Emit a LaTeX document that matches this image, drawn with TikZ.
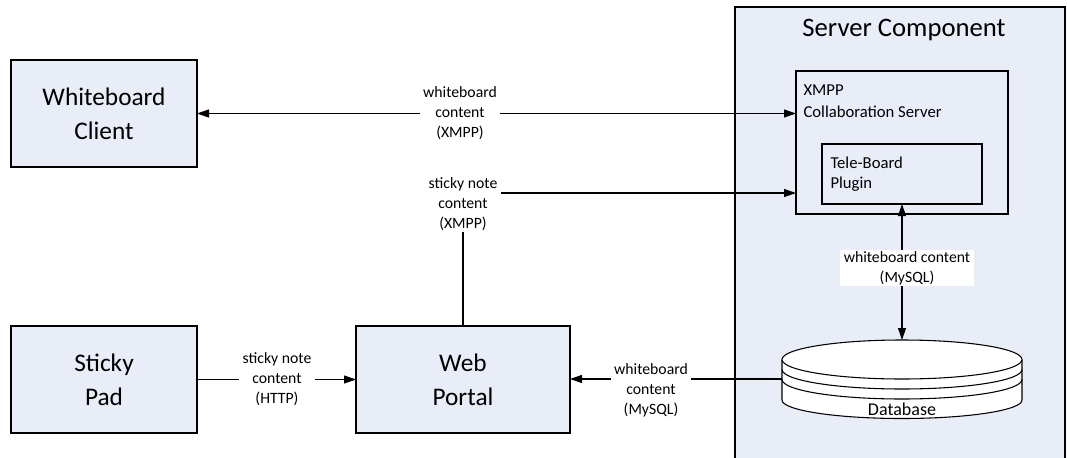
\documentclass[tikz,border=0pt]{standalone}
\usepackage{fontspec}
\setmainfont{Carlito}
\usepackage{tikz}
\usetikzlibrary{arrows.meta,positioning,calc}
\definecolor{boxfill}{RGB}{232,237,247}

\begin{document}
\begin{tikzpicture}[
    x=0.75pt, y=-0.75pt,
    line width=0.8pt,
    box/.style={draw, fill=boxfill, align=center, inner sep=0pt, outer sep=0pt},
    comp/.style={box, minimum width=139.5pt, minimum height=80.25pt, font=\fontsize{19}{25.5}\selectfont},
    region/.style={box, minimum width=247.5pt, minimum height=342pt},
    sub/.style={box},
    subtext/.style={align=left, inner sep=0pt, anchor=north west},
    lbl/.style={fill=white, align=center, inner xsep=2.5pt, inner ysep=1pt, font=\fontsize{11.8}{15}\selectfont},
    ar/.style={-{Triangle[length=9pt,width=6pt]}},
    dar/.style={{Triangle[length=9pt,width=6pt]}-{Triangle[length=9pt,width=6pt]}},
  ]
    \clip (0,0) rectangle (1067,457);

    % server side
    \node[region] (server) at (900,235) {};
    \node[font=\fontsize{20}{24}\selectfont] (srvtitle) at (904,30) {Server Component};
    \node[sub, minimum width=159pt, minimum height=107.25pt] (xmpp) at (902,142.5) {};
    \node[subtext, font=\fontsize{12.5}{17}\selectfont] (xmpptext) at (803,84) {XMPP\\Collaboration Server};
    \node[sub, minimum width=120pt, minimum height=45pt] (tele) at (902,174) {};
    \node[subtext, font=\fontsize{12.5}{15}\selectfont] (teletext) at (830,156) {Tele-Board\\Plugin};

    % database cylinder
    \node[minimum width=180pt, minimum height=58.5pt, inner sep=0pt, outer sep=0pt] (db) at (902,379) {};
    \draw[fill=white] (782,359.5) -- (782,400)
      arc[start angle=180, end angle=360, x radius=90pt, y radius=13.875pt] -- (1022,359.5);
    \draw[fill=white] (902,359.5) ellipse[x radius=90pt, y radius=14.625pt];
    \draw (782,369.5) arc[start angle=180, end angle=360, x radius=90pt, y radius=14.625pt];
    \draw (782,379.5) arc[start angle=180, end angle=360, x radius=90pt, y radius=14.625pt];
    \node[font=\fontsize{13.5}{16}\selectfont] (dbtext) at (902,409) {Database};

    % clients
    \node[comp] (client) at (104,113.5) {Whiteboard\\Client};
    \node[comp] (pad) at (104,379.5) {Sticky\\Pad};
    \node[comp, minimum width=160.5pt] (portal) at (463,379.5) {Web\\Portal};

    % connectors
    \draw[dar] (client.east) -- (client.east -| xmpp.west);
    \draw[ar] (portal.north) |- ([yshift=-37.875pt]xmpp.west);
    \draw[ar] (pad.east) -- (portal.west);
    \draw[ar] (db.west) -- (db.west -| portal.east);
    \draw[dar] (tele.south) -- (db.north);

    % connector labels
    \node[lbl] (lblwbx) at (460,113) {whiteboard\\content\\(XMPP)};
    \node[lbl] (lblsnx) at (463,204) {sticky note\\content\\(XMPP)};
    \node[lbl] (lblhttp) at (277,379.5) {sticky note\\content\\(HTTP)};
    \node[lbl] (lblwbsql) at (651,390) {whiteboard\\content\\(MySQL)};
    \node[lbl] (lbldbsql) at (907,268) {whiteboard content\\(MySQL)};
\end{tikzpicture}
\end{document}
